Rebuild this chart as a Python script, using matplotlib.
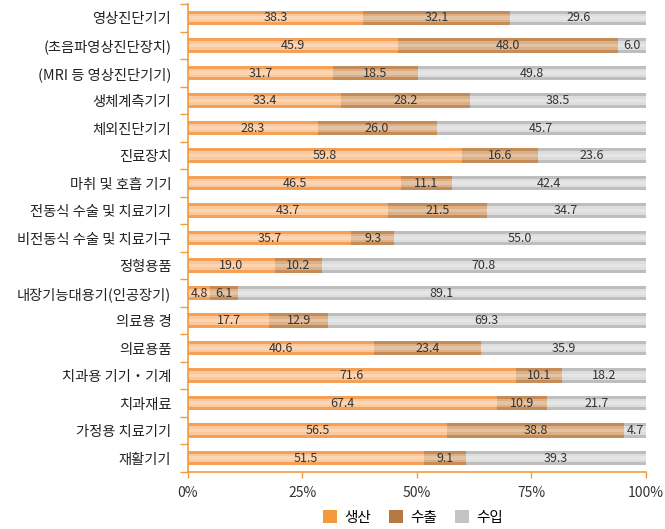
import numpy as np
import matplotlib
matplotlib.use("Agg")
import matplotlib.pyplot as plt
from matplotlib.patches import Patch

plt.rcParams["font.family"] = ["Noto Sans CJK KR", "DejaVu Sans"]
plt.rcParams["axes.unicode_minus"] = False

# 데이터
categories = [
    "영상진단기기", "(초음파영상진단장치)", "(MRI 등 영상진단기기)", "생체계측기기",
    "체외진단기기", "진료장치", "마취 및 호흡 기기", "전동식 수술 및 치료기기",
    "비전동식 수술 및 치료기구", "정형용품", "내장기능대용기(인공장기)", "의료용 경",
    "의료용품", "치과용 기기・기계", "치과재료", "가정용 치료기기", "재활기기",
]
production = [38.3, 45.9, 31.7, 33.4, 28.3, 59.8, 46.5, 43.7, 35.7, 19.0, 4.8, 17.7, 40.6, 71.6, 67.4, 56.5, 51.5]
export = [32.1, 48.0, 18.5, 28.2, 26.0, 16.6, 11.1, 21.5, 9.3, 10.2, 6.1, 12.9, 23.4, 10.1, 10.9, 38.8, 9.1]
imports = [29.6, 6.0, 49.8, 38.5, 45.7, 23.6, 42.4, 34.7, 55.0, 70.8, 89.1, 69.3, 35.9, 18.2, 21.7, 4.7, 39.3]
series_names = ["생산", "수출", "수입"]

base_colors = ["#F5A057", "#C68C57", "#BEBEBE"]
light_colors = ["#FDD6B3", "#E3BD96", "#E8E8E8"]
legend_colors = ["#F39A3C", "#B57A44", "#C4C4C4"]
axis_color = "#F39A3C"

fig = plt.figure(figsize=(6.65, 5.29), dpi=100)
ax = fig.add_axes([0.2827, 0.108, 0.6887, 0.884])

y = np.arange(len(categories))
left = np.zeros(len(categories))
for vals, c, lc in zip([production, export, imports], base_colors, light_colors):
    vals = np.array(vals)
    ax.barh(y, vals, left=left, height=0.52, color=c, edgecolor="none")
    ax.barh(y, vals, left=left, height=0.30, color=lc, edgecolor="none", alpha=0.75)
    ax.barh(y, vals, left=left, height=0.12, color="white", edgecolor="none", alpha=0.25)
    for yi, l, v in zip(y, left, vals):
        ax.text(l + v / 2, yi, f"{v:.1f}", ha="center", va="center",
                fontsize=9, color="#333333")
    left = left + vals

ax.set_xlim(0, 100)
ax.set_ylim(len(categories) - 0.5, -0.5)
ax.set_xticks([0, 25, 50, 75, 100])
ax.set_xticklabels(["0%", "25%", "50%", "75%", "100%"], fontsize=10, color="#333333")
ax.set_yticks(y)
ax.set_yticklabels(categories, fontsize=10.3, color="#222222")
ax.set_yticks(np.arange(len(categories) + 1) - 0.5, minor=True)
ax.tick_params(axis="y", which="major", length=0, pad=12)
ax.tick_params(axis="y", which="minor", length=6, color=axis_color, width=1)
ax.tick_params(axis="x", length=4, color=axis_color, width=1, pad=6)

for s in ["top", "right"]:
    ax.spines[s].set_visible(False)
for s in ["left", "bottom"]:
    ax.spines[s].set_color(axis_color)
    ax.spines[s].set_linewidth(1.2)

handles = [Patch(facecolor=c, edgecolor="none") for c in legend_colors]
fig.legend(handles, series_names, loc="center", bbox_to_anchor=(0.621, 0.022),
           ncol=3, frameon=False, fontsize=10.5, handlelength=1.0, handleheight=1.0,
           columnspacing=1.2, handletextpad=0.5)

plt.savefig("out.png", dpi=100)
plt.close()
